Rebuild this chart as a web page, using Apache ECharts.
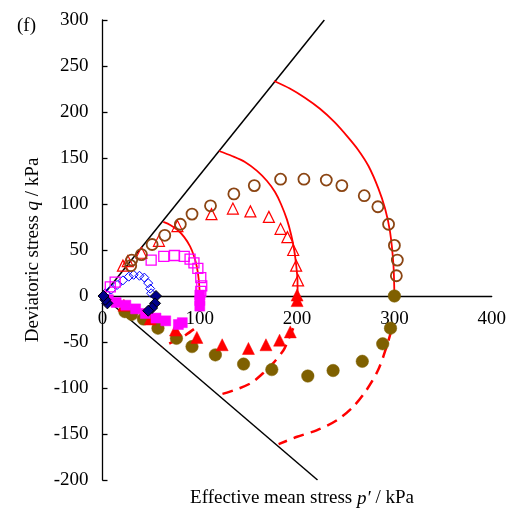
<!DOCTYPE html>
<html>
<head>
<meta charset="utf-8">
<script src="https://cdn.jsdelivr.net/npm/echarts@6/dist/echarts.min.js"></script>
<style>html,body{margin:0;padding:0;background:#fff}#c{width:517px;height:518px}</style>
</head>
<body>
<div id="c"></div>
<script>
// ---- data (p', q) in kPa ----
const xTicks = [0, 100, 200, 300, 400];
const yTicks = [-200, -150, -100, -50, 0, 50, 100, 150, 200, 250, 300];

const cslComp = [[0, 0], [228, 300]];
const cslExt = [[0, 0], [221, -200]];

const arc100 = [[100,0],[99,17],[97,31.5],[94,43.5],[90,54],[84,64],[77.5,71.5],[70,77],[62.5,80.5]];
const arc200 = [[200.5,0],[200.4,17],[199,34],[197,50],[194,66],[189.6,83],[183.4,100],[177.3,113],[169.1,125],[158.8,136],[146.4,145.7],[133.1,152.2],[119.7,157.6]];
const arc300 = [[300,0],[299,34],[295.5,70],[290.4,95],[283.5,117],[273.5,141],[263,158.5],[252,173],[238.5,189],[223.5,203.5],[208,215.5],[192.5,225.5],[176.3,233.7]];

const dash100 = [[94,-36],[86,-42],[78,-47],[70,-51],[61.5,-55.5]];
const dash200 = [[196,-35],[190,-50],[186,-59],[175.5,-73],[165,-84],[152,-95],[131,-104],[119,-107.5]];
const dash300 = [[297,-37],[292,-55],[283.5,-80],[271.5,-102],[258,-120],[241,-135],[220,-146],[200,-153],[181,-161]];

const openCircles300 = [[302,22],[303,39],[300,55],[294,78],[283,97],[269,109],[246,120],[230,126],[207,127],[183,127],[156,120],[135,111],[111,98],[92,89],[80,78],[64,66],[51,56],[40,45],[30,39],[29,33]];
const openTriangles200 = [[201,17],[199,33],[196,50],[190,64],[183,73],[171,86],[152,92],[134,95],[112,89],[77,76],[58,60],[40,47],[26,38],[21,33]];
const openSquares100 = [[101,5],[102,11],[101,20],[98,30],[94,36],[90,40],[84,43],[74,44],[63,43],[50,39],[13,15],[8,10]];
const openDiamonds50 = [[50,3],[49,8],[47,14],[43,20],[38,22],[32,23],[27,21],[21,17],[15,12],[9,7],[3,3]];

const filledDiamonds50 = [[55,0],[54,-8],[51,-13],[47,-16],[5,-8],[3,-4],[1,0]];
const filledSquares100 = [[100,1],[100,-5],[100,-11],[82,-29],[78,-31],[65,-27],[55,-24],[44,-19],[34,-14],[24,-10],[14,-7],[6,-4]];
const filledTriangles200 = [[200,1],[200,-5],[193,-39],[182,-48],[168,-53],[150,-57],[123,-53],[97,-45],[75,-37],[49,-25],[22,-10]];
const filledCircles300 = [[300,0],[296,-35],[288,-52],[267,-71],[237,-81],[211,-87],[174,-80],[145,-74],[116,-64],[92,-55],[76,-46],[57,-35],[42,-25],[30,-20],[23,-17]];

// ---- chart ----
const FONT = 'Liberation Serif';
const GRID = {left: 102.5, right: 25.3, top: 20, bottom: 38};
const chartH = 518 - GRID.top - GRID.bottom;
const yMin = yTicks[0], yMax = yTicks[yTicks.length - 1];
const zeroFromBottom = chartH * (0 - yMin) / (yMax - yMin);

const chart = echarts.init(document.getElementById('c'), null, {renderer: 'canvas'});

function lineS(data, color, width, type, smooth) {
  return {type: 'line', data: data, symbol: 'none', smooth: smooth, silent: true,
    lineStyle: {color: color, width: width, type: type}, z: 2};
}
function scat(data, symbol, size, fill, border, bw) {
  return {type: 'scatter', data: data, symbol: symbol, symbolSize: size, silent: true,
    itemStyle: {color: fill, borderColor: border, borderWidth: bw, opacity: 1}, z: 3};
}

const option = {
  animation: false,
  backgroundColor: '#fff',
  title: [
    {text: '(f)', left: 12, top: 12, textStyle: {fontFamily: FONT, fontSize: 19, fontWeight: 'normal', color: '#000'}},
    {text: 'Effective mean stress {i|p\u2032} / kPa', left: 297, textAlign: 'center', top: 484,
      textStyle: {fontFamily: FONT, fontSize: 19, fontWeight: 'normal', color: '#000',
        rich: {i: {fontFamily: FONT, fontSize: 19, fontStyle: 'italic', color: '#000'}}}}
  ],
  grid: Object.assign({containLabel: false}, GRID),
  xAxis: {
    type: 'value', min: xTicks[0], max: xTicks[xTicks.length - 1], interval: 100,
    offset: -zeroFromBottom,
    axisLine: {onZero: false, lineStyle: {color: '#000', width: 1.3}},
    axisTick: {show: false},
    splitLine: {show: false},
    axisLabel: {fontFamily: FONT, fontSize: 19, color: '#000', margin: 14}
  },
  yAxis: {
    type: 'value', min: yMin, max: yMax, interval: 50,
    name: 'Deviatoric stress {i|q} / kPa', nameLocation: 'middle', nameGap: 40,
    nameTextStyle: {fontFamily: FONT, fontSize: 19, color: '#000',
      rich: {i: {fontFamily: FONT, fontSize: 19, fontStyle: 'italic', color: '#000'}}},
    axisLine: {show: true, onZero: false, lineStyle: {color: '#000', width: 1.3}},
    axisTick: {show: true, inside: true, length: 5, lineStyle: {color: '#000', width: 1.3}},
    splitLine: {show: false},
    axisLabel: {fontFamily: FONT, fontSize: 19, color: '#000', margin: 14}
  },
  series: [
    lineS(cslComp, '#000', 1.5, 'solid', false),
    lineS(cslExt, '#000', 1.5, 'solid', false),
    lineS(arc100, '#FF0000', 1.8, 'solid', 0.3),
    lineS(arc200, '#FF0000', 1.8, 'solid', 0.3),
    lineS(arc300, '#FF0000', 1.8, 'solid', 0.3),
    lineS(dash100, '#FF0000', 2.5, [11, 7], 0.3),
    lineS(dash200, '#FF0000', 2.5, [11, 7], 0.3),
    lineS(dash300, '#FF0000', 2.5, [11, 7], 0.3),
    scat(openDiamonds50, 'diamond', 9, 'rgba(0,0,0,0)', '#0000FF', 1),
    scat(openSquares100, 'rect', 10, 'rgba(0,0,0,0)', '#FF00FF', 1.3),
    scat(openTriangles200, 'triangle', 11, 'rgba(0,0,0,0)', '#FF0000', 1.2),
    scat(openCircles300, 'circle', 11, 'rgba(0,0,0,0)', '#8B4513', 1.8),
    scat(filledCircles300, 'circle', 12.5, '#7F6000', '#7F6000', 0.5),
    scat(filledTriangles200, 'triangle', 12, '#FF0000', '#FF0000', 0.5),
    scat(filledSquares100, 'rect', 10, '#FF00FF', '#FF00FF', 0.5),
    scat(filledDiamonds50, 'diamond', 11, '#00008B', '#000', 1)
  ]
};
chart.setOption(option);
</script>
</body>
</html>
